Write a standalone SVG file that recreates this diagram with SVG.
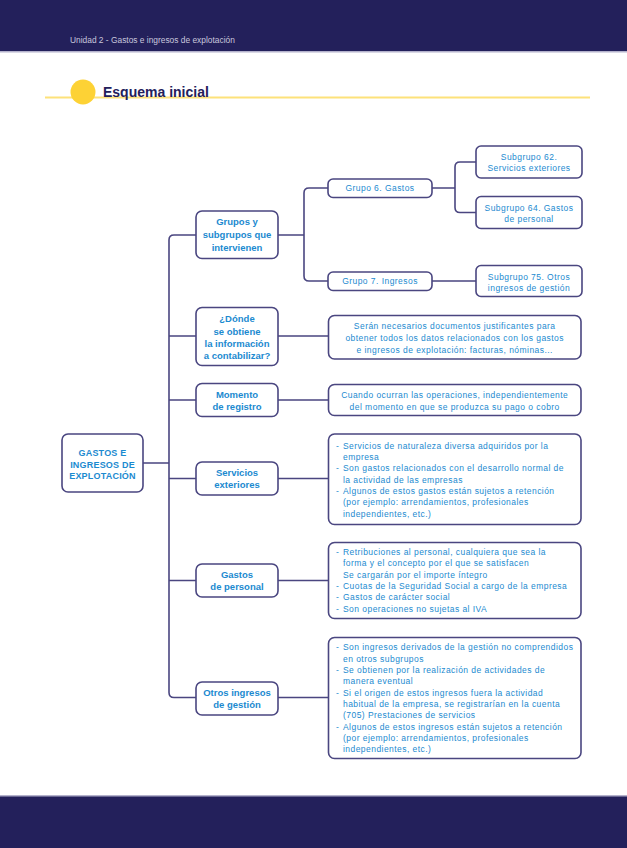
<svg xmlns="http://www.w3.org/2000/svg" width="627" height="848" viewBox="0 0 627 848">
<style>
.bar{fill:#23205b}
.box{fill:#fff;stroke:#4a4680;stroke-width:1.6}
.con{fill:none;stroke:#4a4680;stroke-width:1.6}
text{font-family:"Liberation Sans",Arial,sans-serif;fill:#1b8ad0}
.t1{font-size:9.5px;font-weight:bold;text-anchor:middle}
.t0{font-size:9px;font-weight:bold;text-anchor:middle;letter-spacing:0.2px}
.t2{font-size:8.5px;text-anchor:middle;letter-spacing:0.45px}
.d{font-size:8.5px;letter-spacing:0.45px}
</style>
<rect class="bar" x="0" y="0" width="627" height="51"/>
<rect x="0" y="51" width="627" height="1.5" fill="#b4b2cc"/>
<text x="70" y="43" style="font-size:8.4px;fill:#c9c7dd">Unidad 2 - Gastos e ingresos de explotación</text>
<rect class="bar" x="0" y="796" width="627" height="52"/>
<rect x="0" y="795" width="627" height="1.5" fill="#b4b2cc"/>
<rect x="45" y="96.5" width="545" height="2" fill="#fde27a"/>
<circle cx="83" cy="92" r="12.5" fill="#fdd235"/>
<text x="103" y="97" style="font-size:14px;font-weight:bold;fill:#23205b">Esquema inicial</text>

<g id="connectors">
<path class="con" d="M196,235 H174 Q169,235 169,240 V692.5 Q169,697.5 174,697.5 H196"/>
<path class="con" d="M143,463 H169 M169,336 H196 M169,400 H196 M169,478.5 H196 M169,580.5 H196"/>
<path class="con" d="M278,336 H328 M278,400 H328 M278,478.5 H328 M278,580.5 H328 M278,697.5 H328"/>
<path class="con" d="M278,235 H304 M328,188 H309 Q304,188 304,193 V276 Q304,281 309,281 H328"/>
<path class="con" d="M432,188 H455 M476,162 H460 Q455,162 455,167 V207.5 Q455,212.5 460,212.5 H476 M432,281 H476"/>
</g>

<g id="root">
<rect class="box" x="62" y="434" width="81" height="58" rx="6"/>
<text class="t0" x="102.5" y="456">GASTOS E</text>
<text class="t0" x="102.5" y="467.5">INGRESOS DE</text>
<text class="t0" x="102.5" y="479">EXPLOTACIÓN</text>
</g>

<g id="grupos">
<rect class="box" x="196" y="211" width="82" height="47.5" rx="6"/>
<text class="t1" x="237" y="225">Grupos y</text>
<text class="t1" x="237" y="238">subgrupos que</text>
<text class="t1" x="237" y="250.5">intervienen</text>
</g>
<g id="donde">
<rect class="box" x="196" y="307.5" width="82" height="58" rx="6"/>
<text class="t1" x="237" y="322.3">¿Dónde</text>
<text class="t1" x="237" y="334.6">se obtiene</text>
<text class="t1" x="237" y="347">la información</text>
<text class="t1" x="237" y="359.3">a contabilizar?</text>
</g>
<g id="momento">
<rect class="box" x="196" y="383.5" width="82" height="33" rx="6"/>
<text class="t1" x="237" y="398">Momento</text>
<text class="t1" x="237" y="410.3">de registro</text>
</g>
<g id="servicios">
<rect class="box" x="196" y="462" width="82" height="33" rx="6"/>
<text class="t1" x="237" y="476">Servicios</text>
<text class="t1" x="237" y="488">exteriores</text>
</g>
<g id="gastos">
<rect class="box" x="196" y="564" width="82" height="33" rx="6"/>
<text class="t1" x="237" y="578.3">Gastos</text>
<text class="t1" x="237" y="590">de personal</text>
</g>
<g id="otros">
<rect class="box" x="196" y="682" width="82" height="33" rx="6"/>
<text class="t1" x="237" y="696">Otros ingresos</text>
<text class="t1" x="237" y="708.3">de gestión</text>
</g>

<g id="grupo6">
<rect class="box" x="328" y="179" width="104" height="18.5" rx="5"/>
<text class="t2" x="380" y="191">Grupo 6. Gastos</text>
</g>
<g id="grupo7">
<rect class="box" x="328" y="272" width="104" height="18.5" rx="5"/>
<text class="t2" x="380" y="284">Grupo 7. Ingresos</text>
</g>
<g id="sub62">
<rect class="box" x="476" y="146" width="106" height="32" rx="5"/>
<text class="t2" x="529" y="159.8">Subgrupo 62.</text>
<text class="t2" x="529" y="171.4">Servicios exteriores</text>
</g>
<g id="sub64">
<rect class="box" x="476" y="196.5" width="106" height="32" rx="5"/>
<text class="t2" x="529" y="210.8">Subgrupo 64. Gastos</text>
<text class="t2" x="529" y="222.4">de personal</text>
</g>
<g id="sub75">
<rect class="box" x="476" y="265.5" width="106" height="31" rx="5"/>
<text class="t2" x="529" y="279.8">Subgrupo 75. Otros</text>
<text class="t2" x="529" y="291.4">ingresos de gestión</text>
</g>

<g id="donde-desc">
<rect class="box" x="328.5" y="315.5" width="252.5" height="43.5" rx="6"/>
<text class="t2" x="454.7" y="328.8">Serán necesarios documentos justificantes para</text>
<text class="t2" x="454.7" y="341.4">obtener todos los datos relacionados con los gastos</text>
<text class="t2" x="454.7" y="353.1">e ingresos de explotación: facturas, nóminas...</text>
</g>
<g id="momento-desc">
<rect class="box" x="328.5" y="384.5" width="252.5" height="31" rx="6"/>
<text class="t2" x="454.7" y="398">Cuando ocurran las operaciones, independientemente</text>
<text class="t2" x="454.7" y="409.8">del momento en que se produzca su pago o cobro</text>
</g>
<g id="servicios-desc">
<rect class="box" x="328.5" y="434" width="252.5" height="90.5" rx="6"/>
<text class="d" x="336" y="448.8">-</text><text class="d" x="343" y="448.8">Servicios de naturaleza diversa adquiridos por la</text>
<text class="d" x="343" y="460.1">empresa</text>
<text class="d" x="336" y="471.4">-</text><text class="d" x="343" y="471.4">Son gastos relacionados con el desarrollo normal de</text>
<text class="d" x="343" y="482.7">la actividad de las empresas</text>
<text class="d" x="336" y="494">-</text><text class="d" x="343" y="494">Algunos de estos gastos están sujetos a retención</text>
<text class="d" x="343" y="505.3">(por ejemplo: arrendamientos, profesionales</text>
<text class="d" x="343" y="516.6">independientes, etc.)</text>
</g>
<g id="gastos-desc">
<rect class="box" x="328.5" y="542.5" width="252.5" height="76" rx="6"/>
<text class="d" x="336" y="554.8">-</text><text class="d" x="343" y="554.8">Retribuciones al personal, cualquiera que sea la</text>
<text class="d" x="343" y="566.2">forma y el concepto por el que se satisfacen</text>
<text class="d" x="343" y="577.6">Se cargarán por el importe íntegro</text>
<text class="d" x="336" y="589">-</text><text class="d" x="343" y="589">Cuotas de la Seguridad Social a cargo de la empresa</text>
<text class="d" x="336" y="600.4">-</text><text class="d" x="343" y="600.4">Gastos de carácter social</text>
<text class="d" x="336" y="611.8">-</text><text class="d" x="343" y="611.8">Son operaciones no sujetas al IVA</text>
</g>
<g id="otros-desc">
<rect class="box" x="328.5" y="637.5" width="252.5" height="121" rx="6"/>
<text class="d" x="336" y="650.4">-</text><text class="d" x="343" y="650.4">Son ingresos derivados de la gestión no comprendidos</text>
<text class="d" x="343" y="661.7">en otros subgrupos</text>
<text class="d" x="336" y="673">-</text><text class="d" x="343" y="673">Se obtienen por la realización de actividades de</text>
<text class="d" x="343" y="684.3">manera eventual</text>
<text class="d" x="336" y="695.6">-</text><text class="d" x="343" y="695.6">Si el origen de estos ingresos fuera la actividad</text>
<text class="d" x="343" y="706.9">habitual de la empresa, se registrarían en la cuenta</text>
<text class="d" x="343" y="718.2">(705) Prestaciones de servicios</text>
<text class="d" x="336" y="729.5">-</text><text class="d" x="343" y="729.5">Algunos de estos ingresos están sujetos a retención</text>
<text class="d" x="343" y="740.8">(por ejemplo: arrendamientos, profesionales</text>
<text class="d" x="343" y="752.1">independientes, etc.)</text>
</g>
</svg>
